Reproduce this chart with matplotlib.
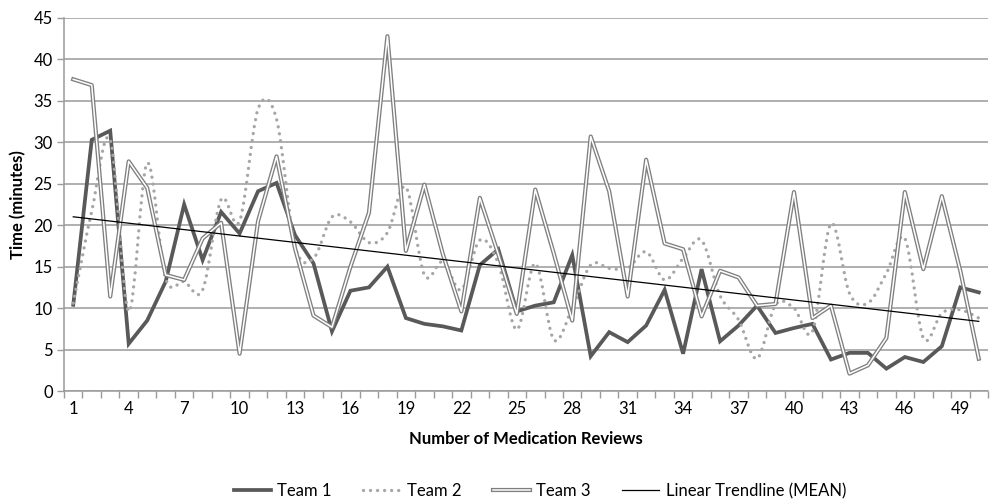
import numpy as np
import matplotlib
matplotlib.use("Agg")
import matplotlib.pyplot as plt
from matplotlib.path import Path
from matplotlib.patches import PathPatch
from matplotlib.lines import Line2D
from matplotlib.legend_handler import HandlerTuple

plt.rcParams['font.family'] = ['Lato', 'DejaVu Sans']

reviews = np.arange(1, 51)
team1 = [10.4, 30.3, 31.4, 5.7, 8.5, 13.2, 22.5, 15.8, 21.6, 19.0,
         24.1, 25.1, 18.8, 15.4, 7.2, 12.1, 12.5, 15.0, 8.8, 8.1,
         7.8, 7.3, 15.2, 17.1, 9.6, 10.3, 10.7, 16.4, 4.2, 7.1,
         5.9, 7.9, 12.2, 4.5, 14.7, 6.0, 7.9, 10.3, 7.0, 7.6,
         8.1, 3.8, 4.6, 4.6, 2.7, 4.1, 3.5, 5.4, 12.5, 11.9]
team2 = [10.6, 21.7, 30.3, 9.6, 27.5, 13.6, 13.2, 12.2, 23.1, 20.5,
         34.0, 32.8, 17.5, 16.0, 21.0, 20.4, 17.9, 19.1, 24.6, 14.0,
         15.6, 12.2, 18.2, 15.4, 7.4, 15.4, 6.2, 10.0, 15.2, 14.8,
         14.8, 16.8, 13.4, 16.0, 18.2, 11.5, 8.6, 3.9, 10.4, 10.0,
         7.2, 20.2, 11.8, 10.6, 14.2, 18.4, 6.4, 9.4, 9.8, 8.8]
team3 = [37.6, 36.9, 11.4, 27.7, 24.5, 14.0, 13.4, 18.4, 20.3, 4.5,
         20.5, 28.3, 17.2, 9.1, 7.7, 15.0, 21.5, 42.8, 16.9, 24.9,
         16.5, 9.6, 23.3, 16.5, 9.3, 24.3, 16.6, 8.5, 30.7, 24.1,
         11.4, 27.9, 17.8, 17.1, 9.0, 14.5, 13.7, 10.3, 10.5, 24.0,
         8.8, 10.3, 2.1, 3.1, 6.4, 24.0, 14.7, 23.5, 14.5, 3.9]
labels = ['Team 1', 'Team 2', 'Team 3', 'Linear Trendline (MEAN)']

c1 = '#595959'
c2 = '#a6a6a6'
c3 = '#7f7f7f'
grid_c = '#9a9a9a'
fs = 12


def smooth_path(x, y):
    # bezier through the points (like excel "smoothed line")
    pts = np.column_stack([x, y]).astype(float)
    ext = np.vstack([pts[0], pts, pts[-1]])
    verts = [pts[0]]
    codes = [Path.MOVETO]
    for i in range(len(pts) - 1):
        p0, p1, p2, p3 = ext[i], ext[i + 1], ext[i + 2], ext[i + 3]
        verts += [p1 + (p2 - p0) / 6, p2 - (p3 - p1) / 6, p2]
        codes += [Path.CURVE4] * 3
    return Path(verts, codes)


fig = plt.figure(figsize=(9.91, 4.99), dpi=100)
ax = fig.add_axes([0.0646, 0.2164, 0.9324, 0.7476])

ax.plot(reviews, team1, color=c1, lw=2.7, solid_joinstyle='miter', zorder=3)
ax.add_patch(PathPatch(smooth_path(reviews, team2), fill=False, edgecolor=c2,
                       lw=2.4, linestyle=(0, (0.01, 2.1)), capstyle='round', zorder=4))
ax.plot(reviews, team3, color=c3, lw=3.0, zorder=5)
ax.plot(reviews, team3, color='white', lw=1.1, zorder=6)

mean = np.mean([team1, team2, team3], axis=0)
k, b = np.polyfit(reviews, mean, 1)
ax.plot(reviews, k * reviews + b, color='black', lw=0.9, zorder=7)

ax.set_xlim(0.5, 50.5)
ax.set_ylim(0, 45)
ax.set_yticks(np.arange(0, 46, 5))
ax.set_xticks(reviews[::3])
ax.set_xticks(np.arange(0.5, 51, 1), minor=True)
ax.tick_params(axis='x', which='major', length=0, pad=7, labelsize=fs)
ax.tick_params(axis='x', which='minor', length=5, width=1, color=grid_c)
ax.tick_params(axis='y', length=5, width=1, color=grid_c, labelsize=fs, pad=3)
ax.yaxis.grid(True, color=grid_c, lw=1.1)
ax.set_axisbelow(True)
for s in ['top', 'right']:
    ax.spines[s].set_visible(False)
for s in ['left', 'bottom']:
    ax.spines[s].set_color(grid_c)
    ax.spines[s].set_linewidth(1.1)

ax.set_xlabel('Number of Medication Reviews', fontsize=fs, fontweight='bold', labelpad=10)
ax.set_ylabel('Time (minutes)', fontsize=fs, fontweight='bold', labelpad=5)

h1 = Line2D([], [], color=c1, lw=2.7)
h2 = Line2D([], [], color=c2, lw=2.4, linestyle=(0, (0.01, 2.1)), dash_capstyle='round')
h3 = (Line2D([], [], color=c3, lw=3.0), Line2D([], [], color='white', lw=1.1))
h4 = Line2D([], [], color='black', lw=0.9)
fig.legend([h1, h2, h3, h4], labels, loc='center', bbox_to_anchor=(0.545, 0.016),
           ncol=4, frameon=False, fontsize=fs, handlelength=2.2, handletextpad=0.4,
           columnspacing=1.9, handler_map={tuple: HandlerTuple(ndivide=1)})

plt.savefig('out.png', dpi=100)
